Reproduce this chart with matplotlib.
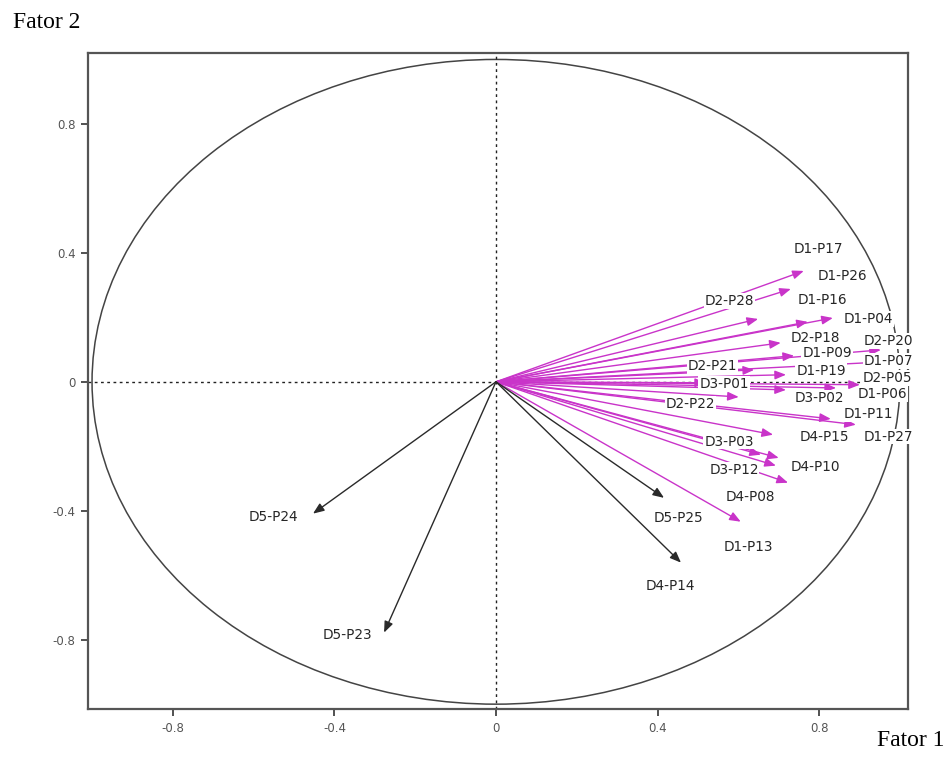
import numpy as np
import matplotlib
matplotlib.use("Agg")
import matplotlib.pyplot as plt
from matplotlib.patches import Circle

# ---- data: loadings on Fator 1 / Fator 2 ----
names = ["D1-P17", "D1-P26", "D2-P28", "D1-P16", "D1-P04", "D2-P18", "D2-P20",
         "D1-P09", "D1-P07", "D2-P21", "D1-P19", "D2-P05", "D3-P01", "D1-P06",
         "D3-P02", "D2-P22", "D1-P11", "D1-P27", "D4-P15", "D3-P03", "D3-P12",
         "D4-P10", "D4-P08", "D1-P13", "D5-P25", "D4-P14", "D5-P24", "D5-P23"]
fator1 = [0.762, 0.730, 0.649, 0.772, 0.834, 0.705, 0.953,
          0.738, 0.965, 0.639, 0.718, 0.901, 0.520, 0.842,
          0.718, 0.601, 0.829, 0.891, 0.686, 0.656, 0.693,
          0.700, 0.723, 0.606, 0.416, 0.458, -0.453, -0.277]
fator2 = [0.344, 0.288, 0.195, 0.186, 0.198, 0.121, 0.099,
          0.081, 0.062, 0.037, 0.022, -0.009, -0.003, -0.019,
          -0.025, -0.047, -0.115, -0.133, -0.164, -0.226, -0.260,
          -0.236, -0.313, -0.434, -0.360, -0.561, -0.409, -0.778]
black_vars = ["D5-P25", "D4-P14", "D5-P24", "D5-P23"]
ticks = [-0.8, -0.4, 0, 0.4, 0.8]
tick_labels = ["-0.8", "-0.4", "0", "0.4", "0.8"]

# ---- layout: label offsets from arrow tip (pixels, +y = down in image) ----
label_off = {
    "D1-P17": (15, -22), "D1-P26": (52, -13), "D2-P28": (-29, -18),
    "D1-P16": (15, -22), "D1-P04": (36, 1), "D2-P18": (35, -5),
    "D2-P20": (7, -9), "D1-P09": (33, -3), "D1-P07": (3, -1),
    "D2-P21": (-42, -4), "D1-P19": (35, -4), "D2-P05": (28, -7),
    "D3-P01": (18, 1), "D1-P06": (46, 6), "D3-P02": (33, 8),
    "D2-P22": (-48, 7), "D1-P11": (38, -5), "D1-P27": (32, 12),
    "D4-P15": (51, 2), "D3-P03": (-32, -13), "D3-P12": (-42, 4),
    "D4-P10": (37, 9), "D4-P08": (-38, 14), "D1-P13": (8, 25),
    "D5-P25": (14, 20), "D4-P14": (-11, 23), "D5-P24": (-40, 3),
    "D5-P23": (-37, 2),
}

W, H = 947, 763
fig = plt.figure(figsize=(W / 100, H / 100), dpi=100)
ax = fig.add_axes([88 / W, (H - 709) / H, 820 / W, 656 / H])
ax.set_xlim(-1.01, 1.02)
ax.set_ylim(-1.015, 1.02)

# circle of correlations
ax.add_patch(Circle((0, 0), 1.0, fill=False, edgecolor="#444444", lw=1.1, zorder=1))
ax.axhline(0, color="#222222", lw=1.0, ls=(0, (2, 2.5)), zorder=1)
ax.axvline(0, color="#222222", lw=1.0, ls=(0, (2, 2.5)), zorder=1)

magenta = "#c934c9"
for n, x, y in zip(names, fator1, fator2):
    col = "#2a2a2a" if n in black_vars else magenta
    ax.annotate("", xy=(x, y), xytext=(0, 0),
                arrowprops=dict(arrowstyle="-|>,head_length=0.55,head_width=0.22",
                                color=col, lw=1.0, shrinkA=0, shrinkB=0,
                                mutation_scale=12),
                zorder=2)

for n, x, y in zip(names, fator1, fator2):
    dx, dy = label_off[n]
    ax.annotate(n, xy=(x, y), xytext=(dx, -dy), textcoords="offset pixels",
                ha="center", va="center", fontsize=9.8, color="#262626",
                family=["DejaVu Sans"],
                bbox=dict(boxstyle="square,pad=0.06", fc="white", ec="none"),
                zorder=4)

ax.set_xticks(ticks)
ax.set_xticklabels(tick_labels)
ax.set_yticks(ticks)
ax.set_yticklabels(tick_labels)
ax.tick_params(direction="out", length=5, width=1.2, color="#333333",
               labelsize=8.5, labelcolor="#555555", pad=4)
for s in ax.spines.values():
    s.set_linewidth(1.6)
    s.set_color("#555555")
    s.set_zorder(3)

fig.text(13 / W, 1 - 23 / H, "Fator 2", fontsize=17,
         family=["Liberation Serif", "DejaVu Serif"], ha="left", va="center")
fig.text(944 / W, 1 - 740 / H, "Fator 1", fontsize=17,
         family=["Liberation Serif", "DejaVu Serif"], ha="right", va="center")

fig.savefig("out.png", dpi=100, facecolor="white")
